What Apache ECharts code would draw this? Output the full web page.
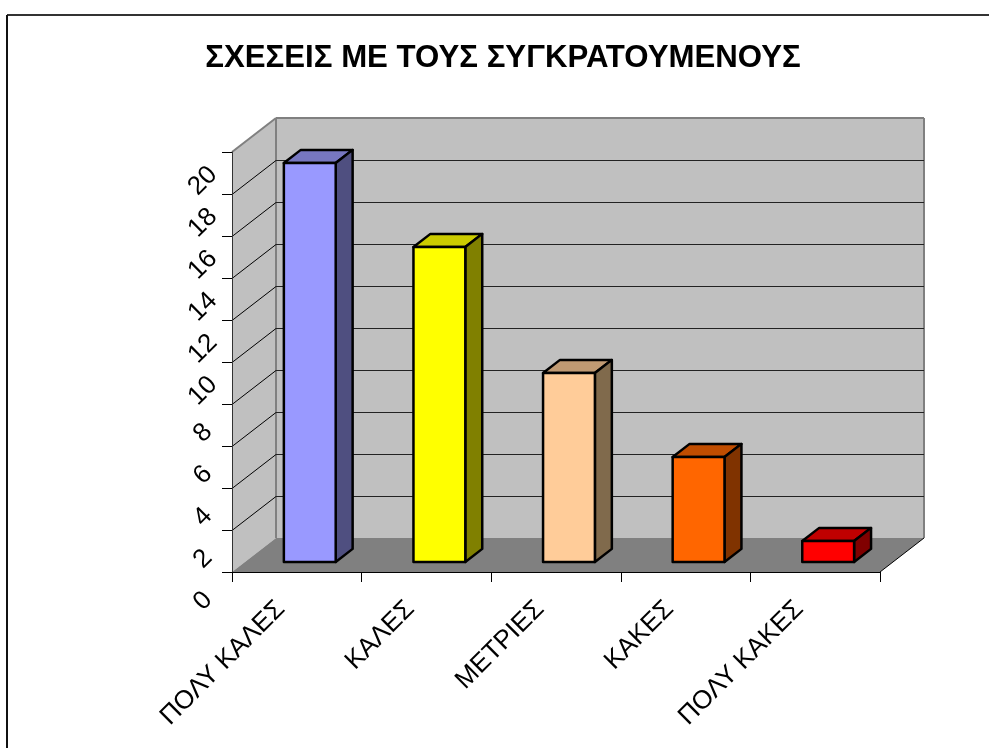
<!DOCTYPE html>
<html><head><meta charset="utf-8">
<style>html,body{margin:0;padding:0;background:#fff}#c{width:989px;height:748px}</style>
<script src="https://cdn.jsdelivr.net/npm/echarts@6/dist/echarts.min.js"></script>
</head><body><div id="c"></div>
<script>
const titleText = 'ΣΧΕΣΕΙΣ ΜΕ ΤΟΥΣ ΣΥΓΚΡΑΤΟΥΜΕΝΟΥΣ';
const categories = ['ΠΟΛΥ ΚΑΛΕΣ', 'ΚΑΛΕΣ', 'ΜΕΤΡΙΕΣ', 'ΚΑΚΕΣ', 'ΠΟΛΥ ΚΑΚΕΣ'];
const values = [19, 15, 9, 5, 1];
const yTicks = [2, 4, 6, 8, 10, 12, 14, 16, 18];
const yMax = 20;

const frontColors = ['#9999ff', '#ffff00', '#ffcc99', '#ff6600', '#ff0000'];
const topColors   = ['#7777c0', '#cccc00', '#c09a73', '#c04d00', '#c00000'];
const sideColors  = ['#4f4f80', '#808000', '#806a4c', '#803300', '#800000'];

const DX = 44, DY = -34;          // full floor depth on screen
const D0 = 0.295, D1 = 0.68;      // bar start and end depth
const off = (p, d) => [p[0] + DX * d, p[1] + DY * d];
const poly = (points, fill, stroke, lw, z2) => ({
  type: 'polygon', z2: z2 || 0, shape: { points },
  style: { fill: fill, stroke: stroke || null, lineWidth: lw || 0, lineJoin: 'round' }
});
const line = (a, b, stroke, lw) => ({
  type: 'line', shape: { x1: a[0], y1: a[1], x2: b[0], y2: b[1] },
  style: { stroke, lineWidth: lw }
});

function corners(api) {
  const w = api.size([1, 0])[0];
  const a = api.coord([0, 0]), t = api.coord([0, yMax]), e = api.coord([categories.length - 1, 0]);
  return { l: a[0] - w / 2, r: e[0] + w / 2, b: a[1], t: t[1] };
}

function renderWalls(params, api) {
  const c = corners(api);
  const fl = [c.l, c.b], fr = [c.r, c.b], tl = [c.l, c.t];
  const bl = off(fl, 1), br = off(fr, 1), ttl = off(tl, 1), ttr = off([c.r, c.t], 1);
  return { type: 'group', children: [
    poly([fl, bl, ttl, tl], '#c0c0c0'),
    poly([bl, br, ttr, ttl], '#c0c0c0'),
    poly([fl, fr, br, bl], '#808080'),
    line(tl, ttl, '#808080', 2),
    line(ttl, ttr, '#808080', 2),
    line(ttl, bl, '#808080', 2),
    line(ttr, br, '#808080', 2),
    line(fr, br, '#000', 1)
  ]};
}

function renderGridline(params, api) {
  const c = corners(api);
  const y = Math.round(api.coord([0, api.value(1)])[1]) + 0.5;
  const p = [c.l, y], q = off(p, 1), r = off([c.r, y], 1);
  return { type: 'group', children: [line(p, q, '#000', 1), line(q, r, '#222', 1)] };
}

function renderBar(params, api) {
  const i = api.value(0), v = api.value(1);
  const w = api.size([1, 0])[0] / 2.5;
  const top = api.coord([i, v]), base = api.coord([i, 0]);
  const xl = top[0] - w / 2, xr = top[0] + w / 2;
  const p = (x, y, d) => off([x, y], d);
  const y0 = base[1], y1 = top[1];
  const s = { stroke: '#000', lw: 2.5 };
  return { type: 'group', children: [
    poly([p(xl, y1, D1), p(xr, y1, D1), p(xr, y1, D0), p(xl, y1, D0)], topColors[i], s.stroke, s.lw),
    poly([p(xr, y0, D0), p(xr, y0, D1), p(xr, y1, D1), p(xr, y1, D0)], sideColors[i], s.stroke, s.lw),
    poly([p(xl, y0, D0), p(xr, y0, D0), p(xr, y1, D0), p(xl, y1, D0)], frontColors[i], s.stroke, s.lw)
  ]};
}

const font = '"Liberation Sans", Arial, sans-serif';
const chart = echarts.init(document.getElementById('c'), null, { renderer: 'canvas' });
chart.setOption({
  animation: false,
  backgroundColor: '#fff',
  title: {
    text: titleText, left: 498, top: 38, textAlign: 'center',
    textStyle: { fontFamily: font, fontSize: 31.2, fontWeight: 'bold', color: '#000' }
  },
  graphic: [
    { type: 'line', silent: true, shape: { x1: 7, y1: 15, x2: 989, y2: 15 }, style: { stroke: '#333', lineWidth: 2 } },
    { type: 'line', silent: true, shape: { x1: 7, y1: 15, x2: 7, y2: 748 }, style: { stroke: '#111', lineWidth: 2 } }
  ],
  grid: [
    { left: 232, right: 109, top: 152, bottom: 176 },
    { left: 216, right: 125, top: 181, bottom: 147 }
  ],
  xAxis: [
    { type: 'category', gridIndex: 0, data: categories, z: 5,
      axisLine: { lineStyle: { color: '#000', width: 1 } },
      axisTick: { show: true, length: 10, alignWithLabel: false, interval: 0, lineStyle: { color: '#000' } },
      axisLabel: { show: false } },
    { type: 'category', gridIndex: 1, data: categories,
      axisLine: { show: false }, axisTick: { show: false },
      axisLabel: { interval: 0, rotate: 45, margin: 4, fontFamily: font, fontSize: 26, color: '#000' } }
  ],
  yAxis: [
    { type: 'value', gridIndex: 0, min: 0, max: yMax, interval: 2, z: 5,
      axisLine: { show: true, lineStyle: { color: '#333', width: 1 } },
      axisTick: { show: true, length: 10, lineStyle: { color: '#000' } },
      axisLabel: { show: false }, splitLine: { show: false } },
    { type: 'value', gridIndex: 1, min: 0, max: yMax, interval: 2,
      axisLine: { show: false }, axisTick: { show: false }, splitLine: { show: false },
      axisLabel: { rotate: 45, align: 'center', verticalAlign: 'middle', margin: 13, fontFamily: font, fontSize: 26, color: '#000' } }
  ],
  series: [
    { type: 'custom', name: 'walls', z: 1, silent: true, clip: false, renderItem: renderWalls, data: [[0, 0]], encode: { x: 0, y: 1 } },
    { type: 'custom', name: 'gridlines', z: 2, silent: true, clip: false, renderItem: renderGridline, data: yTicks.map(v => [0, v]), encode: { x: 0, y: 1 } },
    { type: 'custom', name: 'bars', z: 3, silent: true, clip: false, renderItem: renderBar, data: values.map((v, i) => [i, v]), encode: { x: 0, y: 1 } }
  ]
});
</script></body></html>
